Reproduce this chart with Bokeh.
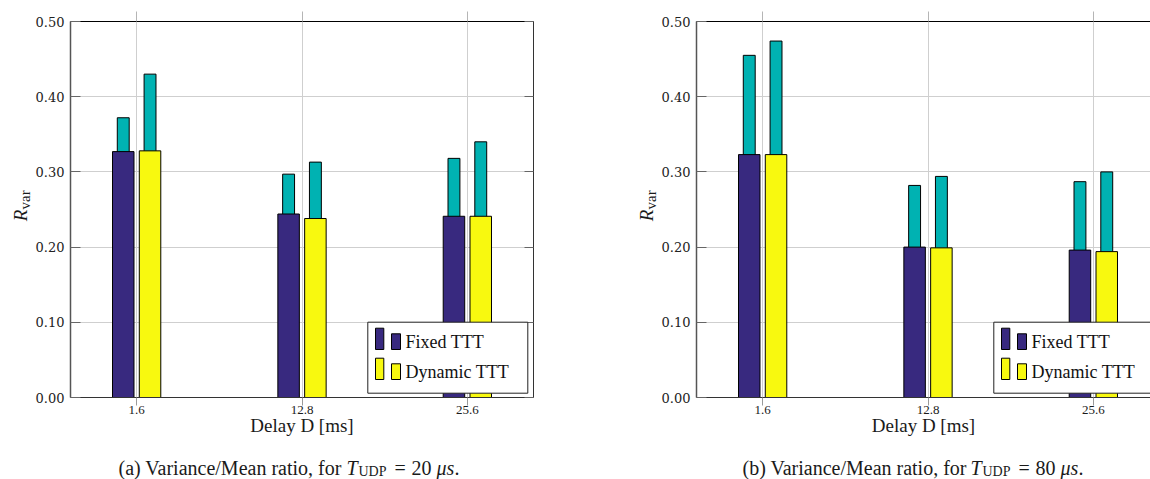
import numpy as np
from bokeh.plotting import figure
from bokeh.models import Range1d, FixedTicker, LinearAxis, Label, BoxAnnotation
from bokeh.layouts import row, column
from bokeh.core.properties import value
from bokeh.embed import file_html
from bokeh.resources import INLINE

# ---------------- data ----------------
delays = ["1.6", "12.8", "25.6"]
y_ticks = [0.0, 0.1, 0.2, 0.3, 0.4, 0.5]
y_tick_labels = ["0.00", "0.10", "0.20", "0.30", "0.40", "0.50"]
series_names = ["Fixed TTT", "Dynamic TTT"]

# panel (a): T_UDP = 20 us
a_fixed = [0.327, 0.244, 0.241]
a_fixed_top = [0.372, 0.297, 0.318]
a_dynamic = [0.328, 0.238, 0.241]
a_dynamic_top = [0.430, 0.313, 0.340]

# panel (b): T_UDP = 80 us
b_fixed = [0.323, 0.200, 0.196]
b_fixed_top = [0.455, 0.282, 0.287]
b_dynamic = [0.323, 0.199, 0.194]
b_dynamic_top = [0.474, 0.294, 0.300]

captions = [("(a)", "20"), ("(b)", "80")]

# ---------------- style ----------------
NAVY = "#38297f"
YELLOW = "#f8f90f"
TEAL = "#00b2b2"
GRID = "#cfcfcf"
AXIS = "#333333"
TXT = "#1a1a1a"
SERIF = "Liberation Serif"
TICKF = "DejaVu Serif"

PLOT_H = 450
CAP_H = 29
TOP, BOTTOM = 21, 53
UNIT = 463 / 2.8
OFF = 0.081
W_MAIN, W_TOP = 0.13, 0.072
AX_BORDER = 38


def deco_fig(w, h):
    f = figure(width=w, height=h, output_backend="svg", toolbar_location=None,
               x_range=Range1d(0, w), y_range=Range1d(0, h), min_border=0,
               x_axis_type=None, y_axis_type=None)
    f.outline_line_color = None
    f.background_fill_color = "white"
    f.border_fill_color = "white"
    return f


def make_panel(fixed, fixed_top, dyn, dyn_top, width, border_right, show_right):
    border_left = AX_BORDER
    frame_w = width - border_left - border_right
    x_end = 0.6 + frame_w / UNIT
    p = figure(width=width, height=PLOT_H, output_backend="svg",
               toolbar_location=None, x_range=Range1d(0.6, x_end),
               y_range=Range1d(0, 0.5), min_border_left=border_left,
               min_border_right=border_right, min_border_top=TOP,
               min_border_bottom=BOTTOM)
    p.outline_line_color = None
    p.background_fill_color = "white"
    p.border_fill_color = "white"

    x = np.arange(1, len(delays) + 1)
    xt = [int(v) for v in x]

    p.vbar(x=x - OFF, width=W_TOP, bottom=0, top=fixed_top, fill_color=TEAL,
           line_color="black", line_width=1)
    p.vbar(x=x + OFF, width=W_TOP, bottom=0, top=dyn_top, fill_color=TEAL,
           line_color="black", line_width=1)
    p.vbar(x=x - OFF, width=W_MAIN, bottom=0, top=fixed, fill_color=NAVY,
           line_color="black", line_width=1)
    p.vbar(x=x + OFF, width=W_MAIN, bottom=0, top=dyn, fill_color=YELLOW,
           line_color="black", line_width=1)

    # grids
    p.xgrid.ticker = FixedTicker(ticks=xt)
    p.ygrid.ticker = FixedTicker(ticks=y_ticks)
    p.xgrid.grid_line_color = GRID
    p.ygrid.grid_line_color = GRID

    # bottom axis
    xa = p.xaxis[0]
    xa.ticker = FixedTicker(ticks=xt)
    xa.major_label_overrides = {t: d for t, d in zip(xt, delays)}
    xa.axis_label = "Delay D [ms]"
    xa.axis_label_text_font = SERIF
    xa.axis_label_text_font_style = "normal"
    xa.axis_label_text_font_size = "19px"
    xa.axis_label_text_color = TXT
    xa.axis_label_standoff = -2
    xa.major_label_text_font = SERIF
    xa.major_label_text_font_size = "13px"
    xa.major_label_text_color = TXT
    xa.major_label_standoff = 0
    xa.major_tick_in = 0
    xa.major_tick_out = 8
    xa.major_tick_line_color = "#9a9a9a"
    xa.minor_tick_line_color = None
    xa.axis_line_color = AXIS

    # left axis
    ya = p.yaxis[0]
    ya.ticker = FixedTicker(ticks=y_ticks)
    ya.major_label_overrides = {t: s for t, s in zip(y_ticks, y_tick_labels)}
    ya.major_label_text_font = TICKF
    ya.major_label_text_font_size = "13px"
    ya.major_label_text_color = "#222222"
    ya.major_label_standoff = 6
    ya.major_tick_in = 10
    ya.major_tick_out = 0
    ya.major_tick_line_color = "#666666"
    ya.minor_tick_line_color = None
    ya.axis_line_color = "#555555"
    ya.axis_line_width = 1.5

    # top axis (frame edge + short grey tick stubs)
    ta = LinearAxis(ticker=FixedTicker(ticks=xt))
    ta.major_label_overrides = {t: "" for t in xt}
    ta.major_label_standoff = 0
    ta.major_tick_in = 0
    ta.major_tick_out = 10
    ta.major_tick_line_color = "#b5b5b5"
    ta.minor_tick_line_color = None
    ta.axis_line_color = "black"
    p.add_layout(ta, "above")

    if show_right:
        ra = LinearAxis(ticker=FixedTicker(ticks=y_ticks))
        ra.major_label_overrides = {t: "" for t in y_ticks}
        ra.major_label_standoff = 0
        ra.major_tick_in = 9
        ra.major_tick_out = 0
        ra.major_tick_line_color = "#666666"
        ra.minor_tick_line_color = None
        ra.axis_line_color = AXIS
        p.add_layout(ra, "right")

    fl = border_left
    # legend (drawn by hand: two patches per entry like the original)
    lb = dict(left_units="canvas", right_units="canvas", top_units="canvas",
              bottom_units="canvas")
    p.add_layout(BoxAnnotation(left=fl + 297.3, right=fl + 457.3, top=321.7,
                               bottom=392.7, fill_color="white", fill_alpha=1,
                               line_color="#222222", line_width=1, line_alpha=1,
                               level="overlay", **lb))
    for name, col, ytop, ymid in [(series_names[0], NAVY, 327.7, 341.7),
                                  (series_names[1], YELLOW, 357.7, 371.7)]:
        p.add_layout(BoxAnnotation(left=fl + 305, right=fl + 313.3, top=ytop,
                                   bottom=ytop + 21.3, fill_color=col, fill_alpha=1,
                                   line_color="black", line_width=1, line_alpha=1,
                                   level="overlay", **lb))
        p.add_layout(BoxAnnotation(left=fl + 321, right=fl + 330, top=ytop + 5.6,
                                   bottom=ytop + 21.3, fill_color=col, fill_alpha=1,
                                   line_color="black", line_width=1, line_alpha=1,
                                   level="overlay", **lb))
        p.add_layout(Label(x=fl + 335, y=ymid, x_units="canvas", y_units="canvas",
                           text=name, text_font=SERIF, text_font_size="18px",
                           text_color="#111111", text_baseline="middle",
                           level="overlay"))
    return p


def make_ylabel(w, r_cx):
    f = deco_fig(w, PLOT_H)
    f.text(x=[r_cx], y=[PLOT_H - 232], text=["R"], angle=np.pi / 2,
           text_font=value(SERIF), text_font_style="italic",
           text_font_size="19px", text_color=TXT, text_baseline="middle",
           text_align="center")
    f.text(x=[r_cx + 4.5], y=[PLOT_H - 213.5], text=["var"], angle=np.pi / 2,
           text_font=value(SERIF), text_font_style="normal",
           text_font_size="15px", text_color=TXT, text_baseline="middle",
           text_align="center")
    return f


def make_caption(w, x0, tag, tval):
    f = deco_fig(w, CAP_H)
    mid = CAP_H - (467.3 - PLOT_H)
    sub = CAP_H - (471.0 - PLOT_H)
    pieces = [(0, mid, tag + " Variance/Mean ratio, for", "20px", "normal"),
              (228, mid, "T", "20px", "italic"),
              (240, sub, "UDP", "14px", "normal"),
              (276, mid, "=", "20px", "normal"),
              (293, mid, tval, "20px", "normal"),
              (318, mid, "μs", "20px", "italic"),
              (336, mid, ".", "20px", "normal")]
    for dx, yy, txt, size, style in pieces:
        f.text(x=[x0 + dx], y=[yy], text=[txt], text_font=value(SERIF),
               text_font_size=size, text_font_style=style, text_color=TXT,
               text_baseline="middle", text_align="left")
    return f


# panel (a): canvas 0..575, frame 70..533
ylab_a = make_ylabel(32, 20)
pa = make_panel(a_fixed, a_fixed_top, a_dynamic, a_dynamic_top, 543, 42, True)
cap_a = make_caption(575, 118, captions[0][0], captions[0][1])

# panel (b): canvas 575..1150, frame 696..1150 (cut at the window edge)
ylab_b = make_ylabel(83, 71)
pb = make_panel(b_fixed, b_fixed_top, b_dynamic, b_dynamic_top, 492, 0, False)
cap_b = make_caption(575, 167, captions[1][0], captions[1][1])

layout = row(column(row(ylab_a, pa, spacing=0), cap_a, spacing=0),
             column(row(ylab_b, pb, spacing=0), cap_b, spacing=0), spacing=0)
open("out.html", "w").write(file_html(layout, INLINE))
